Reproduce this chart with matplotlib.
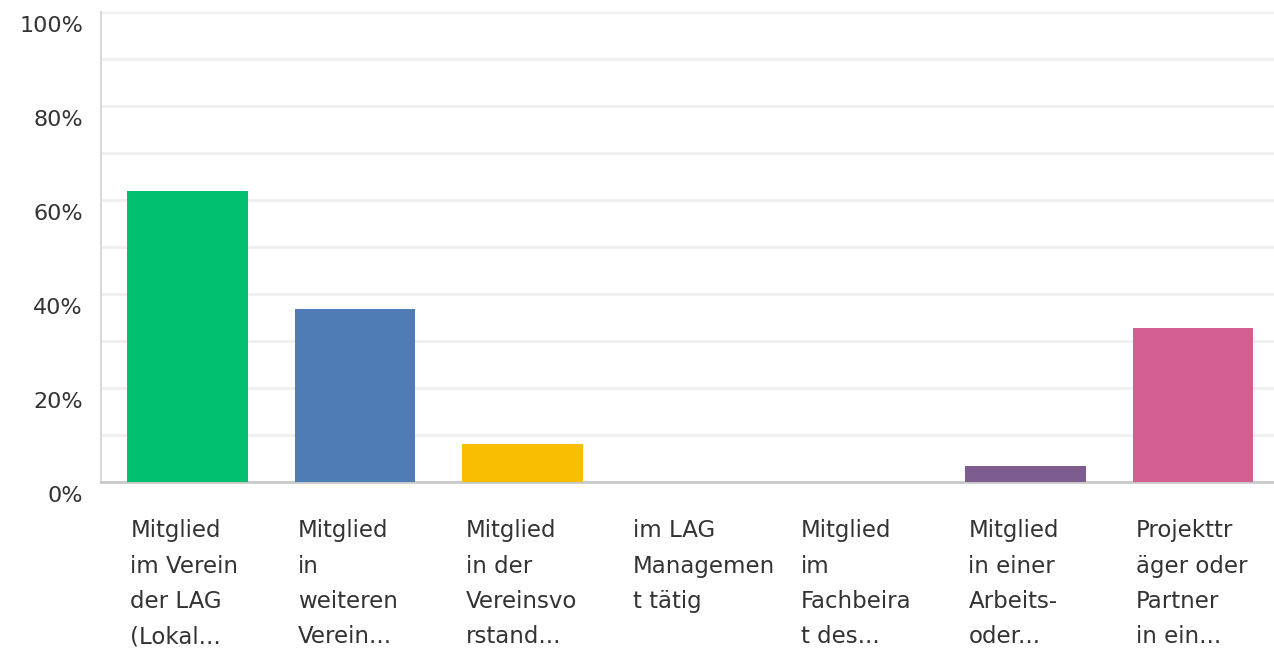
import matplotlib
matplotlib.use("Agg")
import matplotlib.pyplot as plt
import matplotlib.transforms as mtransforms
import numpy as np

# answer categories (already wrapped / truncated like in the survey tool)
labels = [
    "Mitglied\nim Verein\nder LAG\n(Lokal...",
    "Mitglied\nin\nweiteren\nVerein...",
    "Mitglied\nin der\nVereinsvo\nrstand...",
    "im LAG\nManagemen\nt tätig",
    "Mitglied\nim\nFachbeira\nt des...",
    "Mitglied\nin einer\nArbeits-\noder...",
    "Projekttr\näger oder\nPartner\nin ein...",
]
values = [62.0, 36.8, 8.1, 0.0, 0.0, 3.4, 32.7]
colors = ["#00BF6F", "#507CB6", "#F9BE00", "#6BC8CD", "#FF8B4F", "#7D5C90", "#D25F90"]
yticks = [0, 20, 40, 60, 80, 100]

plt.rcParams['font.family'] = ['DejaVu Sans']

fig = plt.figure(figsize=(12.74, 6.48), dpi=100)
ax = fig.add_axes([101 / 1274, 1 - 482 / 648, 1 - 101 / 1274, 470 / 648])

x = np.arange(len(values))
bar_w = 0.72
ax.bar(x, values, width=bar_w, color=colors, zorder=3)

ax.set_xlim(-0.516, len(values) - 0.516)
ax.set_ylim(0, 100)

# light grid every 10 %
for g in range(10, 101, 10):
    ax.axhline(g, color="#efefef", lw=2, zorder=1)

ax.set_yticks(yticks)
ax.set_yticklabels([f"{t}%" for t in yticks], fontsize=16, color="#333333")
ax.tick_params(axis="y", length=0, pad=13)
ax.set_xticks([])
offset = mtransforms.ScaledTranslation(0, -12 / 100, fig.dpi_scale_trans)
for lbl in ax.get_yticklabels():
    lbl.set_transform(lbl.get_transform() + offset)

for s in ["top", "right"]:
    ax.spines[s].set_visible(False)
ax.spines["left"].set_color("#d9d9d9")
ax.spines["left"].set_linewidth(1.5)
ax.spines["bottom"].set_color("#c8c8c8")
ax.spines["bottom"].set_linewidth(2)

# category labels under the bars, left aligned to the bar edge
trans = mtransforms.blended_transform_factory(ax.transData, ax.transAxes)
for i, lab in enumerate(labels):
    ax.text(i - bar_w / 2 + 0.02, -0.079, lab, transform=trans, ha="left", va="top",
            fontsize=16.5, color="#333333", linespacing=1.69)

fig.savefig("out.png", dpi=100)
